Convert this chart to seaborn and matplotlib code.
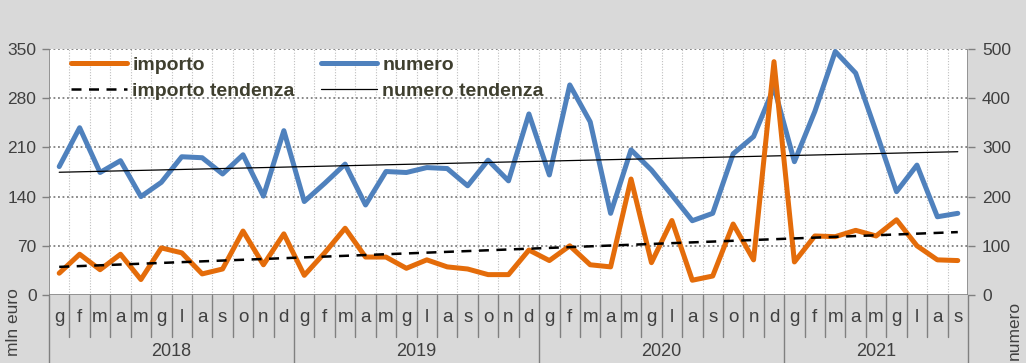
import numpy as np
import pandas as pd
import matplotlib
matplotlib.use("Agg")
import matplotlib.pyplot as plt
import matplotlib.transforms as mtransforms
from matplotlib.lines import Line2D
import seaborn as sns

# ---------------- data ----------------
months = ["g", "f", "m", "a", "m", "g", "l", "a", "s", "o", "n", "d"] * 3 + \
         ["g", "f", "m", "a", "m", "g", "l", "a", "s"]
years = ["2018", "2019", "2020", "2021"]
year_counts = [12, 12, 12, 9]

importo = [31, 58, 36, 58, 22, 67, 60, 30, 37, 91, 43, 87,
           28, 60, 95, 54, 54, 38, 50, 40, 37, 29, 29, 64,
           49, 70, 43, 40, 165, 46, 106, 21, 27, 101, 50, 332,
           47, 84, 83, 92, 84, 107, 70, 50, 49]
numero = [261, 340, 249, 273, 200, 229, 281, 279, 246, 285, 201, 334,
          190, 227, 266, 183, 251, 249, 259, 257, 222, 274, 232, 368,
          244, 427, 352, 166, 295, 254, 203, 151, 166, 287, 322, 422,
          271, 373, 495, 451, 332, 210, 264, 159, 166]

left_ticks = [0, 70, 140, 210, 280, 350]
right_ticks = [0, 100, 200, 300, 400, 500]

# ---------------- figure ----------------
W, H = 1026, 363
fig = plt.figure(figsize=(W / 100, H / 100), dpi=100)
bg = "#d9d9d9"
fig.patch.set_facecolor(bg)
sns.set_style("white")
plt.rcParams["font.family"] = ["Liberation Sans", "DejaVu Sans"]

px0, px1, py0, py1 = 49, 968, 49, 295
ax2 = fig.add_axes([px0 / W, 1 - py1 / H, (px1 - px0) / W, (py1 - py0) / H])
ax = ax2.twinx()
ax.yaxis.tick_left()
ax.yaxis.set_label_position("left")
ax2.yaxis.tick_right()
ax2.yaxis.set_label_position("right")
ax.set_zorder(ax2.get_zorder() + 1)
ax.patch.set_visible(False)
ax2.set_facecolor("white")

n = len(months)
x = np.arange(n)
df = pd.DataFrame({"x": x, "importo": importo, "numero": numero})

# trend lines (linear regression, as in the spreadsheet trendline)
ci = np.polyfit(x, importo, 1)
cn = np.polyfit(x, numero, 1)
df["imp_tr"] = np.polyval(ci, x)
df["num_tr"] = np.polyval(cn, x)

orange = "#e46c0a"
blue = "#4f81bd"
txtc = "#404040"

# right axis (numero)
sns.lineplot(data=df, x="x", y="numero", ax=ax2, color=blue, lw=3.6, zorder=3)
sns.lineplot(data=df, x="x", y="num_tr", ax=ax2, color="black", lw=0.9, zorder=4)
# left axis (importo)
sns.lineplot(data=df, x="x", y="importo", ax=ax, color=orange, lw=3.6, zorder=3)
sns.lineplot(data=df, x="x", y="imp_tr", ax=ax, color="black", lw=1.8,
             ls=(0, (4, 3)), zorder=4)

for a in (ax, ax2):
    a.set_xlim(-0.5, n - 0.5)
    a.set_xlabel("")
    a.set_ylabel("")
    a.set_xticks([])
    for s in a.spines.values():
        s.set_visible(False)
ax.set_ylim(0, 350)
ax2.set_ylim(0, 500)
ax.set_yticks(left_ticks)
ax2.set_yticks(right_ticks)
ax.tick_params(axis="y", colors="#808080", labelcolor=txtc, labelsize=12.5,
               length=5, width=1, pad=4)
ax2.tick_params(axis="y", colors="#808080", labelcolor=txtc, labelsize=12.5,
                length=5, width=1, pad=5)

# grid
for v in right_ticks[1:]:
    ax2.axhline(v, color="#7f7f7f", lw=1.3, ls=(0, (1, 1.5)), zorder=1)
for b in np.arange(0.5, n - 1, 1.0):
    ax2.axvline(b, color="#bfbfbf", lw=0.8, ls=(0, (1, 1.5)), zorder=1)

# axis lines
ax2.axvline(-0.5, color="#808080", lw=1.2, zorder=5)
ax2.axvline(n - 0.5, color="#808080", lw=1.2, zorder=5)
ax2.axhline(0, color="#808080", lw=1.2, zorder=5)

# category axis (two levels)
tr = mtransforms.blended_transform_factory(ax.transData, ax.transAxes)
hgt = py1 - py0
def yfrac(pix):
    return (py1 - pix) / hgt

for i, m in enumerate(months):
    ax.text(i, yfrac(318), m, transform=tr, ha="center", va="center",
            fontsize=13.5, color=txtc, clip_on=False)
sep_short = np.arange(0.5, n - 1, 1.0)
year_bounds = np.cumsum(year_counts)[:-1] - 0.5
for b in sep_short:
    if b in year_bounds:
        continue
    ax.add_line(Line2D([b, b], [0, yfrac(337)], transform=tr, color="#808080",
                       lw=1.0, clip_on=False))
for b in list(year_bounds) + [-0.5, n - 0.5]:
    ax.add_line(Line2D([b, b], [0, yfrac(H)], transform=tr, color="#808080",
                       lw=1.0, clip_on=False))
start = 0
for yname, c in zip(years, year_counts):
    ax.text(start + (c - 1) / 2, yfrac(351), yname, transform=tr, ha="center",
            va="center", fontsize=13, color=txtc, clip_on=False)
    start += c

# axis titles
fig.text(13 / W, 1 - 322 / H, "mln euro", rotation=90, ha="center", va="center",
         fontsize=12.5, color=txtc)
fig.text(1014 / W, 1 - 330 / H, "numero", rotation=90, ha="center", va="center",
         fontsize=12.5, color=txtc)

# legend
handles = [
    Line2D([], [], color=orange, lw=3.6),
    Line2D([], [], color="black", lw=1.8, ls=(0, (4, 3))),
    Line2D([], [], color=blue, lw=3.6),
    Line2D([], [], color="black", lw=0.9),
]
labels = ["importo", "importo tendenza", "numero", "numero tendenza"]
leg = ax.legend(handles, labels, ncol=2, loc="upper left",
                bbox_to_anchor=(0.005, 1.04), frameon=False, handlelength=2.9,
                handletextpad=0.25, columnspacing=1.35, labelspacing=0.4,
                prop={"size": 14, "weight": "bold"})
for t in leg.get_texts():
    t.set_color("#3f3f2f")
leg.set_zorder(10)

fig.savefig("out.png", dpi=100, facecolor=bg)
